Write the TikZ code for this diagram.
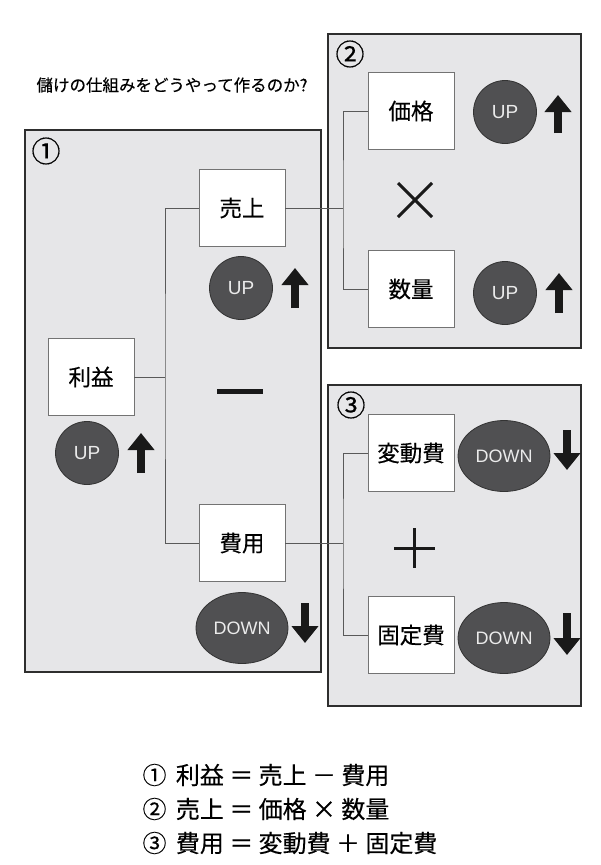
\documentclass[tikz,border=0pt]{standalone}
\usepackage{fontspec}
\setmainfont{Noto Sans CJK JP}[FakeBold=0.3]
\newfontfamily\latinsans{Liberation Sans}
\usetikzlibrary{arrows.meta,shapes.geometric}
\definecolor{panelgray}{HTML}{E6E6E8}
\definecolor{ballgray}{HTML}{505052}

\begin{document}
\begin{tikzpicture}[x=1pt, y=-1pt,
  panel/.style={draw=black!82, line width=1.6pt, fill=panelgray},
  itembox/.style={draw=black!55, line width=0.9pt, fill=white, inner sep=0pt,
    minimum width=86pt, minimum height=77pt, font=\fontsize{22.5}{22.5}\selectfont},
  upball/.style={circle, draw=black!80, line width=0.8pt, fill=ballgray, inner sep=0pt,
    minimum size=63pt, text=white!92!black, font=\latinsans\fontsize{19}{19}\selectfont},
  downball/.style={ellipse, draw=black!80, line width=0.8pt, fill=ballgray, inner sep=0pt,
    minimum width=92pt, minimum height=71pt, text=white!92!black, font=\latinsans\fontsize{18}{18}\selectfont},
  bigarrow/.style={line width=8pt, black!90, -{Triangle[width=26pt,length=17pt]}},
  wire/.style={draw=black!65, line width=0.8pt},
  opmark/.style={line width=3pt, black!90},
  numlabel/.style={font=\fontsize{29}{29}\selectfont},
  sumline/.style={anchor=west, font=\fontsize{24}{24}\selectfont}]
  \useasboundingbox (0,0) rectangle (600,865);

  % title
  \node[anchor=west, font=\fontsize{16.5}{16.5}\selectfont] (title) at (33,85) {儲けの仕組みをどうやって作るのか?};

  % panels
  \draw[panel] (25,130) rectangle (321,672);
  \draw[panel] (328,34) rectangle (581,348);
  \draw[panel] (328,385) rectangle (581,706);
  \node[numlabel] (n1) at (46,151) {①};
  \node[numlabel] (n2) at (350,54) {②};
  \node[numlabel] (n3) at (351,405) {③};

  % boxes
  \node[itembox] (rieki) at (91,377) {利益};
  \node[itembox] (uriage) at (242,208) {売上};
  \node[itembox] (hiyou) at (242,543) {費用};
  \node[itembox] (kakaku) at (411,111) {価格};
  \node[itembox] (suuryou) at (411,289) {数量};
  \node[itembox] (hendou) at (411,453) {変動費};
  \node[itembox] (kotei) at (411,635) {固定費};

  % junctions
  \coordinate (j1) at (165,377);
  \coordinate (j2) at (343,208);
  \coordinate (j3) at (343,543);
  \draw[wire] (rieki.east) -- (j1);
  \draw[wire] (uriage.west) -| (j1) |- (hiyou.west);
  \draw[wire] (uriage.east) -- (j2);
  \draw[wire] (kakaku.west) -| (j2) |- (suuryou.west);
  \draw[wire] (hiyou.east) -- (j3);
  \draw[wire] (hendou.west) -| (j3) |- (kotei.west);

  % operators
  \draw[line width=5pt, black!90] (217,391) -- (263,391);
  \draw[opmark] (398,183) -- (432,217);
  \draw[opmark] (432,183) -- (398,217);
  \draw[opmark] (394,548) -- (435,548);
  \draw[opmark] (414,528) -- (414,568);

  % up / down balls
  \node[upball] (up-rieki) at (87,453) {UP};
  \node[upball] (up-uriage) at (241,288) {UP};
  \node[upball] (up-kakaku) at (505,112) {UP};
  \node[upball] (up-suuryou) at (505,293) {UP};
  \node[downball] (dn-hiyou) at (242,628) {DOWN};
  \node[downball] (dn-hendou) at (504,456) {DOWN};
  \node[downball] (dn-kotei) at (504,638) {DOWN};

  % arrows
  \draw[bigarrow] (141,473) -- (141,433);
  \draw[bigarrow] (295,308) -- (295,268);
  \draw[bigarrow] (558,133) -- (558,95);
  \draw[bigarrow] (559,313) -- (559,273);
  \draw[bigarrow] (305,603) -- (305,643);
  \draw[bigarrow] (567,430) -- (567,470);
  \draw[bigarrow] (567,613) -- (567,655);

  % summary
  \node[sumline] (s1) at (139,775) {①\,\ 利益 ＝ 売上 － 費用};
  \node[sumline] (s2) at (139,809) {②\,\ 売上 ＝ 価格 × 数量};
  \node[sumline] (s3) at (139,843) {③\,\ 費用 ＝ 変動費 ＋ 固定費};
\end{tikzpicture}
\end{document}
